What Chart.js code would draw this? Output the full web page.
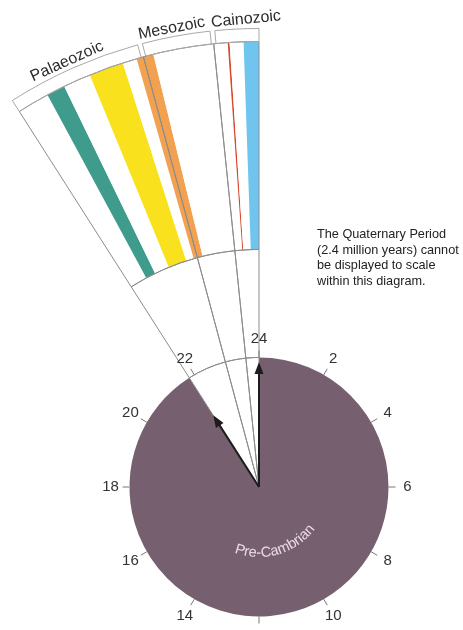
<!DOCTYPE html>
<html>
<head>
<meta charset="utf-8">
<script src="https://cdn.jsdelivr.net/npm/chart.js@4.4.0/dist/chart.umd.min.js"></script>
<style>
html, body { margin: 0; padding: 0; width: 463px; height: 630px; overflow: hidden; background: #fff; }
.layer { position: absolute; left: -241px; top: -13px; }
#note { position: absolute; left: 317px; top: 227px; font: 12.7px 'Liberation Sans', Arial, sans-serif; line-height: 15.7px; color: #222; }
</style>
</head>
<body>
<canvas id="fillChart" class="layer" width="1000" height="1000"></canvas>
<canvas id="lineChart" class="layer" width="1000" height="1000"></canvas>
<div id="note">The Quaternary Period<br>(2.4 million years) cannot<br>be displayed to scale<br>within this diagram.</div>
<script>
// Earth history as a 24 hour clock
const clockHours = [2, 4, 6, 8, 10, 12, 14, 16, 18, 20, 22, 24];
const precambrianHours = 21.83;
const phanerozoicHours = 2.17;
const handHours = [21.83, 24];

// eras of the enlarged fan, million years ago (as drawn)
const eraNames = ['Palaeozoic', 'Mesozoic', 'Cainozoic'];
const eraStart = [541, 250, 97];
const eraEnd = [250, 97, 0];

// coloured bands in the fan, million years ago
const bandStart = [471, 371, 265, 67, 33];
const bandEnd = [431, 296, 228, 63, 0];
const bandColors = ['#3f9c8c', '#f9e11e', '#f2a150', '#d8492c', '#70c5ee'];

const purple = '#76606f';
const grey = '#8c8c8c';
const font = "'Liberation Sans', Arial, sans-serif";
const wedgeDeg = phanerozoicHours / 24 * 360;
const eraSpans = eraStart.map((s, i) => s - eraEnd[i]);

// fan fill segments, oldest first
const fanData = [], fanColors = [];
let t = eraStart[0];
bandStart.forEach((s, i) => {
    if (s < t) { fanData.push(t - s); fanColors.push('#ffffff'); }
    fanData.push(s - bandEnd[i]);
    fanColors.push(bandColors[i]);
    t = bandEnd[i];
});
if (t > 0) { fanData.push(t); fanColors.push('#ffffff'); }

// bracket ring above the fan, with small gaps between eras
const gap = 10;
const bracketData = [eraSpans[0] - gap / 2, gap, eraSpans[1] - gap, gap, eraSpans[2] - gap / 2];

const ring = { bracket: 13, fan: 208, gap: 108, pie: 129.5 };
const outerR = ring.bracket + ring.fan + ring.gap + ring.pie;

const baseOptions = {
    responsive: false,
    animation: false,
    events: [],
    cutout: 0,
    radius: outerR,
    layout: { padding: 0 },
    plugins: { legend: { display: false }, tooltip: { enabled: false } }
};

new Chart(document.getElementById('fillChart'), {
    type: 'doughnut',
    data: {
        datasets: [
            { data: [1], weight: ring.bracket, backgroundColor: 'rgba(0,0,0,0)', borderWidth: 0 },
            { data: fanData, weight: ring.fan, rotation: -wedgeDeg, circumference: wedgeDeg, backgroundColor: fanColors, borderWidth: 0 },
            { data: [1], weight: ring.gap, backgroundColor: 'rgba(0,0,0,0)', borderWidth: 0 },
            { data: [precambrianHours, phanerozoicHours], weight: ring.pie, backgroundColor: [purple, '#ffffff'], borderWidth: 0 }
        ]
    },
    options: baseOptions
});

const eraHours = eraSpans.map(v => v / eraStart[0] * phanerozoicHours);

const clockPlugin = {
    id: 'clockText',
    afterDatasetsDraw(chart) {
        const ctx = chart.ctx;
        const br = chart.getDatasetMeta(0).data;
        const pie = chart.getDatasetMeta(3).data;
        const cx = pie[0].x, cy = pie[0].y, r = pie[0].outerRadius;
        ctx.save();

        // era labels above the brackets (last one starts at its bracket and runs past the edge)
        ctx.fillStyle = '#2b2b2b';
        ctx.font = '16px ' + font;
        ctx.textBaseline = 'alphabetic';
        eraNames.forEach((name, i) => {
            const a = br[i * 2];
            const last = i === eraNames.length - 1;
            const ang = last ? a.startAngle : (a.startAngle + a.endAngle) / 2 - 0.006;
            const rr = a.outerRadius + 4;
            ctx.textAlign = last ? 'left' : 'center';
            ctx.save();
            ctx.translate(cx + rr * Math.cos(ang), cy + rr * Math.sin(ang));
            ctx.rotate(ang + Math.PI / 2);
            ctx.fillText(name, last ? -3 : 0, 0);
            ctx.restore();
        });

        // hour ticks and labels
        ctx.font = '15px ' + font;
        ctx.textAlign = 'center';
        ctx.textBaseline = 'middle';
        clockHours.forEach(h => {
            const ang = h / 24 * Math.PI * 2 - Math.PI / 2;
            const c = Math.cos(ang), s = Math.sin(ang);
            ctx.strokeStyle = '#777';
            ctx.lineWidth = 1;
            ctx.beginPath();
            ctx.moveTo(cx + r * c, cy + r * s);
            ctx.lineTo(cx + (r + 7) * c, cy + (r + 7) * s);
            ctx.stroke();
            ctx.fillStyle = '#333';
            ctx.fillText(String(h), cx + (r + 19) * c, cy + (r + 19) * s);
        });

        // clock hands
        const handLen = [85, 125];
        ctx.fillStyle = '#1c1c1c';
        ctx.strokeStyle = '#1c1c1c';
        handHours.forEach((h, i) => {
            const ang = h / 24 * Math.PI * 2 - Math.PI / 2;
            const L = handLen[i];
            ctx.save();
            ctx.translate(cx, cy);
            ctx.rotate(ang);
            ctx.lineWidth = 2;
            ctx.beginPath();
            ctx.moveTo(0, 0);
            ctx.lineTo(L - 8, 0);
            ctx.stroke();
            ctx.beginPath();
            ctx.moveTo(L, 0);
            ctx.lineTo(L - 12, -4.5);
            ctx.lineTo(L - 12, 4.5);
            ctx.closePath();
            ctx.fill();
            ctx.restore();
        });

        // curved Pre-Cambrian label
        const pc = pie[3];
        const mid = (pc.startAngle + pc.endAngle) / 2;
        const R = 70;
        const label = 'Pre-Cambrian';
        ctx.font = '14.5px ' + font;
        ctx.fillStyle = '#eadbe5';
        ctx.textBaseline = 'alphabetic';
        const total = ctx.measureText(label).width;
        let acc = 0;
        for (const ch of label) {
            const w = ctx.measureText(ch).width;
            const ang = mid + (total / 2 - acc - w / 2) / R;
            ctx.save();
            ctx.translate(cx + R * Math.cos(ang), cy + R * Math.sin(ang));
            ctx.rotate(ang - Math.PI / 2);
            ctx.fillText(ch, 0, 0);
            ctx.restore();
            acc += w;
        }
        ctx.restore();
    }
};

new Chart(document.getElementById('lineChart'), {
    type: 'doughnut',
    data: {
        datasets: [
            { data: bracketData, weight: ring.bracket, rotation: -wedgeDeg, circumference: wedgeDeg,
              backgroundColor: 'rgba(0,0,0,0)', borderColor: '#a8a8a8', borderWidth: [1, 0, 1, 0, 1] },
            { data: eraSpans, weight: ring.fan, rotation: -wedgeDeg, circumference: wedgeDeg,
              backgroundColor: 'rgba(0,0,0,0)', borderColor: grey, borderWidth: 1 },
            { data: eraSpans, weight: ring.gap, rotation: -wedgeDeg, circumference: wedgeDeg,
              backgroundColor: 'rgba(0,0,0,0)', borderColor: grey, borderWidth: 1 },
            { data: eraHours.concat([precambrianHours]), weight: ring.pie, rotation: -wedgeDeg,
              backgroundColor: 'rgba(0,0,0,0)', borderColor: grey, borderWidth: [1, 1, 1, 0] }
        ]
    },
    options: baseOptions,
    plugins: [clockPlugin]
});
</script>
</body>
</html>
